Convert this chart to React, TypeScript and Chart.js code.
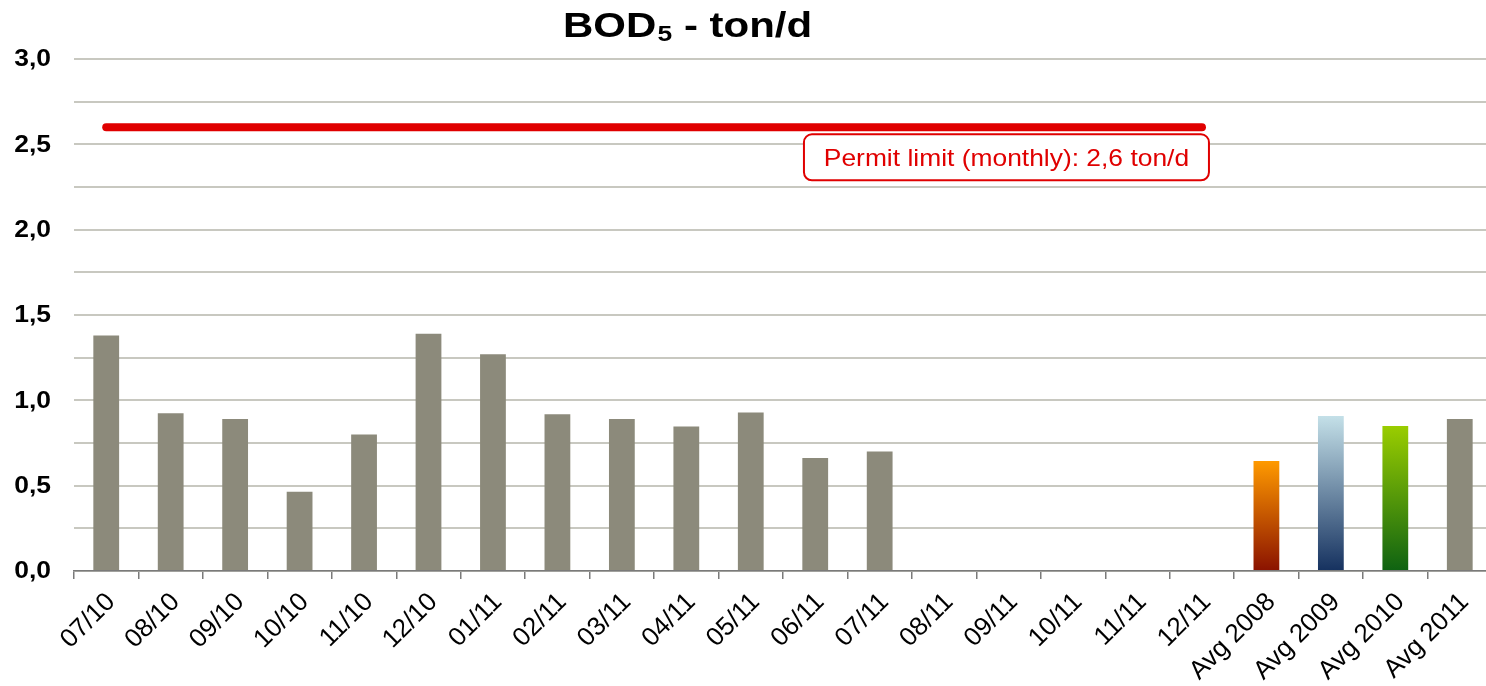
import React, { useEffect, useRef } from "react";
import { Chart, registerables } from "chart.js";

Chart.register(...registerables);

const categories = [
  "07/10", "08/10", "09/10", "10/10", "11/10", "12/10",
  "01/11", "02/11", "03/11", "04/11", "05/11", "06/11",
  "07/11", "08/11", "09/11", "10/11", "11/11", "12/11",
  "Avg 2008", "Avg 2009", "Avg 2010", "Avg 2011",
];

const bodValues: (number | null)[] = [
  1.38, 0.925, 0.89, 0.465, 0.80, 1.39,
  1.27, 0.918, 0.89, 0.846, 0.928, 0.662,
  0.70, null, null, null, null, null,
  0.645, 0.908, 0.85, 0.89,
];

const permitLimitValues: (number | null)[] = [
  2.6, 2.6, 2.6, 2.6, 2.6, 2.6,
  2.6, 2.6, 2.6, 2.6, 2.6, 2.6,
  2.6, 2.6, 2.6, 2.6, 2.6, 2.6,
  null, null, null, null,
];

const yTickValues = [0, 0.5, 1.0, 1.5, 2.0, 2.5, 3.0];

const barColor = "#8C8A7B";
const gradientStops: Record<number, [string, string]> = {
  18: ["#FF9A00", "#8A1200"],
  19: ["#C4E0E8", "#15315F"],
  20: ["#9ACD00", "#0E6212"],
};

const FONT = "'Liberation Sans', Arial, sans-serif";

const textPlugin = {
  id: "customTexts",
  afterDraw(chart: any) {
    const ctx = chart.ctx;
    const yScale = chart.scales.y;
    const xScale = chart.scales.x;
    ctx.save();
    // Title
    ctx.fillStyle = "#000";
    ctx.textBaseline = "alphabetic";
    ctx.save();
    ctx.translate(563, 37);
    ctx.scale(1.2, 1);
    ctx.font = `bold 35px ${FONT}`;
    ctx.textAlign = "left";
    const p1 = "BOD";
    ctx.fillText(p1, 0, 0);
    let w = ctx.measureText(p1).width;
    ctx.font = `bold 22px ${FONT}`;
    ctx.fillText("5", w + 1, 4);
    w += ctx.measureText("5").width + 1;
    ctx.font = `bold 35px ${FONT}`;
    ctx.fillText(" - ton/d", w, 0);
    ctx.restore();

    // Y tick labels
    ctx.font = `bold 23px ${FONT}`;
    ctx.textBaseline = "middle";
    yTickValues.forEach((v) => {
      const y = yScale.getPixelForValue(v);
      const txt = v.toFixed(1).replace(".", ",");
      ctx.save();
      ctx.translate(51, y + 1);
      ctx.scale(1.15, 1);
      ctx.textAlign = "right";
      ctx.fillText(txt, 0, 0);
      ctx.restore();
    });

    // Annotation box
    const right = xScale.getPixelForValue(17) + 7;
    const top = yScale.getPixelForValue(2.6) + 7;
    const boxW = 405;
    const boxH = 46;
    const left = right - boxW;
    ctx.strokeStyle = "#E00000";
    ctx.lineWidth = 2;
    ctx.fillStyle = "#FFFFFF";
    ctx.beginPath();
    (ctx as any).roundRect(left, top, boxW, boxH, 8);
    ctx.fill();
    ctx.stroke();
    ctx.fillStyle = "#E00000";
    ctx.save();
    ctx.translate(left + boxW / 2, top + 32);
    ctx.scale(1.1, 1);
    ctx.font = `24px ${FONT}`;
    ctx.textAlign = "center";
    ctx.textBaseline = "alphabetic";
    ctx.fillText("Permit limit (monthly): 2,6 ton/d", 0, 0);
    ctx.restore();
    ctx.restore();
  },
};

export default function App() {
  const canvasRef = useRef<HTMLCanvasElement | null>(null);

  useEffect(() => {
    const canvas = canvasRef.current;
    if (!canvas) return;
    const chart = new Chart(canvas, {
      type: "bar",
      data: {
        labels: categories,
        datasets: [
          {
            type: "line",
            label: "Permit limit",
            data: permitLimitValues,
            borderColor: "#E00000",
            borderWidth: 8,
            borderCapStyle: "round",
            pointRadius: 0,
            fill: false,
            spanGaps: false,
            order: 0,
          } as any,
          {
            type: "bar",
            label: "BOD5",
            data: bodValues,
            barPercentage: 0.4,
            categoryPercentage: 1,
            order: 1,
            backgroundColor: (ctx: any) => {
              const i = ctx.dataIndex;
              const stops = gradientStops[i];
              if (!stops) return barColor;
              const chartObj = ctx.chart;
              const { chartArea, scales } = chartObj;
              if (!chartArea || !scales.y) return stops[0];
              const v = bodValues[i] ?? 0;
              const yTop = scales.y.getPixelForValue(v);
              const yBot = scales.y.getPixelForValue(0);
              const g = chartObj.ctx.createLinearGradient(0, yTop, 0, yBot);
              g.addColorStop(0, stops[0]);
              g.addColorStop(1, stops[1]);
              return g;
            },
          } as any,
        ],
      },
      options: {
        responsive: false,
        animation: false,
        layout: { padding: { top: 59, right: 0, left: 0, bottom: 0 } },
        plugins: {
          legend: { display: false },
          title: { display: false },
          tooltip: { enabled: false },
        },
        scales: {
          x: {
            offset: true,
            grid: {
              display: true,
              offset: true,
              drawOnChartArea: false,
              drawTicks: true,
              tickLength: 8,
              color: "#7A7A7A",
              lineWidth: 1.5,
            },
            border: { display: true, color: "#7A7A7A", width: 1.5 },
            ticks: {
              color: "#000",
              font: { family: FONT, size: 26 },
              minRotation: 45,
              maxRotation: 45,
              autoSkip: false,
              padding: 8,
              labelOffset: 5,
            },
            afterFit: (s: any) => {
              s.height = 115;
            },
          },
          y: {
            min: 0,
            max: 3,
            ticks: { stepSize: 0.25, display: false },
            grid: {
              color: "#C8C8C0",
              lineWidth: 2,
              drawTicks: false,
            },
            border: { display: false },
            afterFit: (s: any) => {
              s.width = 74;
            },
          },
        },
      },
      plugins: [textPlugin],
    });
    return () => chart.destroy();
  }, []);

  return (
    <div
      style={{
        position: "absolute",
        left: 0,
        top: 0,
        width: 1486,
        height: 686,
        overflow: "hidden",
        background: "#fff",
      }}
    >
      <canvas ref={canvasRef} width={1492} height={686} style={{ display: "block" }} />
    </div>
  );
}
